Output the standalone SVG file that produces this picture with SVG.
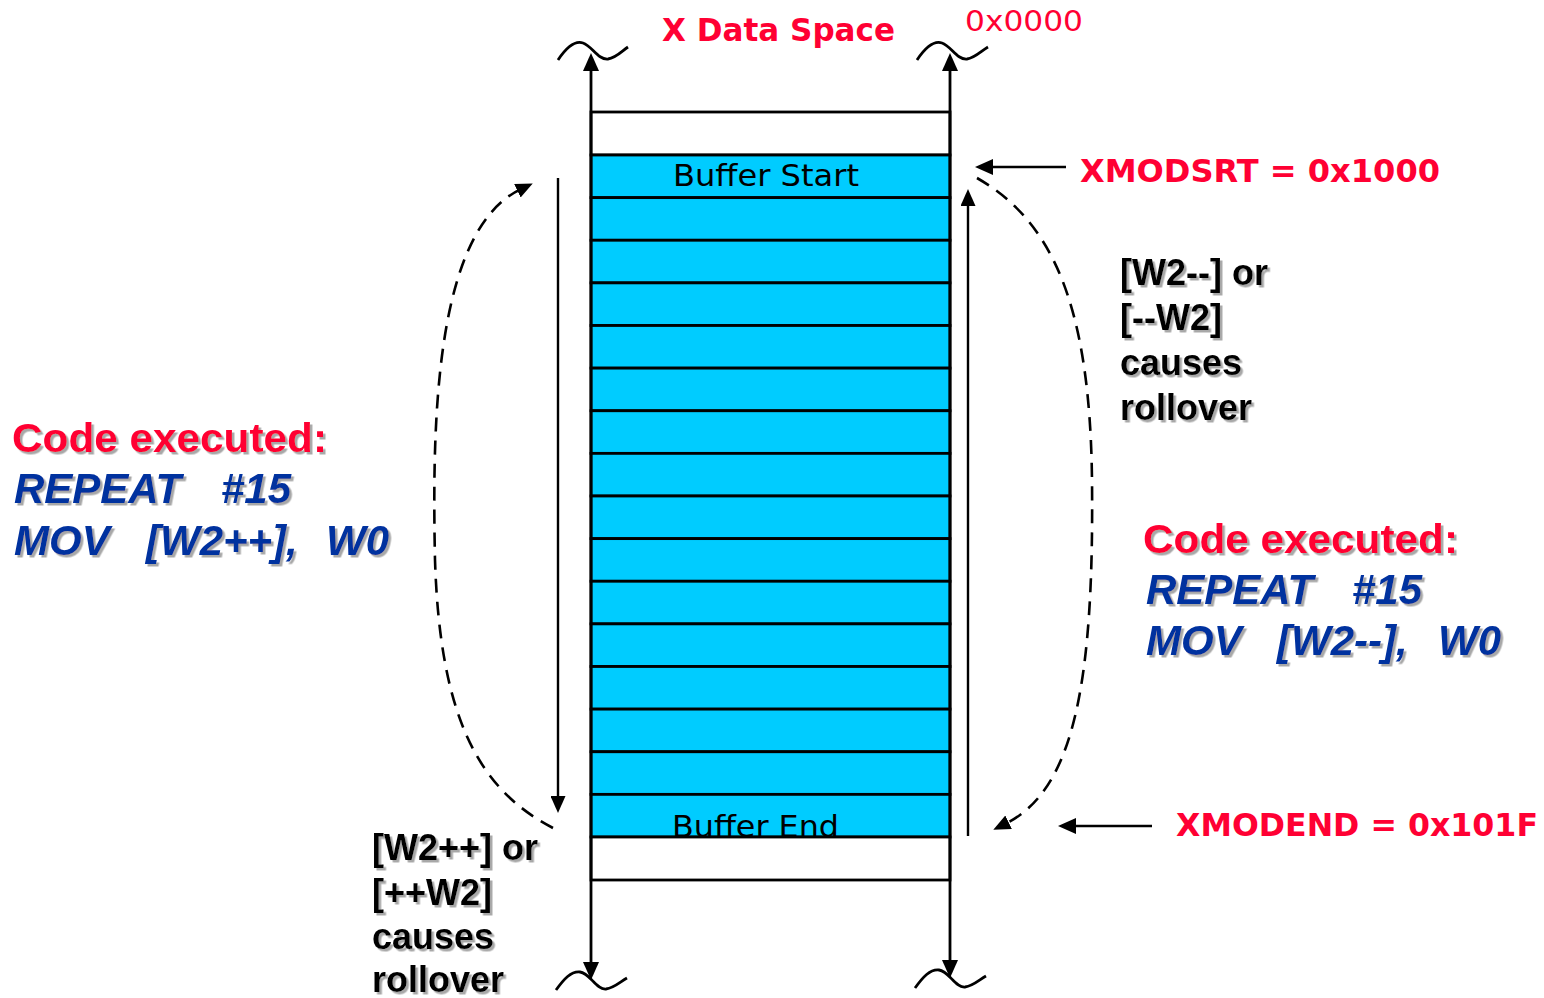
<svg xmlns="http://www.w3.org/2000/svg" width="1544" height="998" viewBox="0 0 1544 998">
  <style>
    .cell { fill: #00CCFF; stroke: #000; stroke-width: 2.8; }
    .blank { fill: #fff; stroke: #000; stroke-width: 2.8; }
    .axis { fill: none; stroke: #000; stroke-width: 2.8; }
    .thin { fill: none; stroke: #000; stroke-width: 2.4; }
    .dash { fill: none; stroke: #000; stroke-width: 2.6; stroke-dasharray: 14 9; }
    .tilde { fill: none; stroke: #000; stroke-width: 2.8; }
    .cellText { font-family: "DejaVu Sans", Verdana, sans-serif; font-size: 30px; fill: #000; }
    .redHead { font-family: "DejaVu Sans", Verdana, sans-serif; font-weight: bold; font-size: 32px; fill: #FF0033; }
    .redAddr { font-family: "DejaVu Sans", Verdana, sans-serif; font-size: 29px; fill: #FF0033; }
    .codeHead { font-family: "Liberation Sans", Arial, sans-serif; font-weight: bold; font-size: 40px; fill: #FF0033; }
    .code { font-family: "Liberation Sans", Arial, sans-serif; font-weight: bold; font-style: italic; font-size: 42px; fill: #06309F; }
    .note { font-family: "Liberation Sans", Arial, sans-serif; font-weight: bold; font-size: 36px; fill: #000; }
  </style>
  <defs>
    <marker id="ah" viewBox="0 0 18 16" refX="4" refY="8" markerWidth="18" markerHeight="16" markerUnits="userSpaceOnUse" orient="auto-start-reverse">
      <path d="M0,0 L18,8 L0,16 z" fill="#000"/>
    </marker>
    <marker id="ahs" viewBox="0 0 17 15" refX="4" refY="7.5" markerWidth="17" markerHeight="15" markerUnits="userSpaceOnUse" orient="auto-start-reverse">
      <path d="M0,0 L17,7.5 L0,15 z" fill="#000"/>
    </marker>
    <filter id="shadow" x="-5%" y="-20%" width="115%" height="150%">
      <feDropShadow dx="2.5" dy="2.5" stdDeviation="0.7" flood-color="#8a8a8a" flood-opacity="0.75"/>
    </filter>
  </defs>

  <rect width="1544" height="998" fill="#fff"/>

  <!-- memory map column -->
  <g id="memory-map">
    <rect class="blank" x="591" y="112" width="359" height="43"/>
    <rect class="cell" x="591" y="155" width="359" height="42.625"/>
    <rect class="cell" x="591" y="197.625" width="359" height="42.625"/>
    <rect class="cell" x="591" y="240.25" width="359" height="42.625"/>
    <rect class="cell" x="591" y="282.875" width="359" height="42.625"/>
    <rect class="cell" x="591" y="325.5" width="359" height="42.625"/>
    <rect class="cell" x="591" y="368.125" width="359" height="42.625"/>
    <rect class="cell" x="591" y="410.75" width="359" height="42.625"/>
    <rect class="cell" x="591" y="453.375" width="359" height="42.625"/>
    <rect class="cell" x="591" y="496" width="359" height="42.625"/>
    <rect class="cell" x="591" y="538.625" width="359" height="42.625"/>
    <rect class="cell" x="591" y="581.25" width="359" height="42.625"/>
    <rect class="cell" x="591" y="623.875" width="359" height="42.625"/>
    <rect class="cell" x="591" y="666.5" width="359" height="42.625"/>
    <rect class="cell" x="591" y="709.125" width="359" height="42.625"/>
    <rect class="cell" x="591" y="751.75" width="359" height="42.625"/>
    <rect class="cell" x="591" y="794.375" width="359" height="42.625"/>
    <text class="cellText" x="673" y="186" textLength="186" lengthAdjust="spacingAndGlyphs">Buffer Start</text>
    <text class="cellText" x="672" y="837" textLength="167" lengthAdjust="spacingAndGlyphs">Buffer End</text>
    <rect class="blank" x="591" y="837" width="359" height="43" stroke-width="2.2"/>
  </g>

  <!-- connectors -->
  <g id="connectors">
    <!-- address axes -->
    <line class="axis" x1="591" y1="67" x2="591" y2="966" marker-start="url(#ah)" marker-end="url(#ah)"/>
    <line class="axis" x1="950" y1="67" x2="950" y2="964" marker-start="url(#ah)" marker-end="url(#ah)"/>
    <!-- break marks -->
    <path class="tilde" d="M558,60 C566,48 574,40 583,43 C592,46 598,60 608,59 C616,58 622,51 628,47"/>
    <path class="tilde" d="M917,60 C925,48 933,40 942,43 C951,46 957,60 967,59 C975,58 981,51 988,47"/>
    <path class="tilde" d="M556,990 C564,979 571,971 580,972 C590,973 596,990 606,989 C614,988 620,982 627,978"/>
    <path class="tilde" d="M915,988 C923,977 930,969 939,970 C949,971 955,988 965,987 C973,986 979,980 986,976"/>
    <!-- traversal direction -->
    <line class="thin" x1="558" y1="178" x2="558" y2="800" marker-end="url(#ahs)"/>
    <line class="thin" x1="968" y1="836" x2="968" y2="202" marker-end="url(#ahs)"/>
    <!-- rollover paths -->
    <path class="dash" d="M553,828 C480,790 440,720 435,560 C432,420 435,230 521,189" marker-end="url(#ahs)"/>
    <path class="dash" d="M977,178 C1050,220 1090,300 1092,480 C1094,680 1075,790 1005,824" marker-end="url(#ahs)"/>
    <!-- register pointers -->
    <line class="thin" x1="1066" y1="167" x2="989" y2="167" marker-end="url(#ah)"/>
    <line class="thin" x1="1152" y1="826" x2="1072" y2="826" marker-end="url(#ah)"/>
  </g>

  <g id="title">
    <text class="redHead" x="662" y="41" textLength="233" lengthAdjust="spacingAndGlyphs">X Data Space</text>
  </g>
  <g id="addr-top">
    <text class="redAddr" x="965" y="31" textLength="118" lengthAdjust="spacingAndGlyphs">0x0000</text>
  </g>
  <g id="xmodsrt">
    <text class="redHead" x="1080" y="182" textLength="360" lengthAdjust="spacingAndGlyphs">XMODSRT = 0x1000</text>
  </g>
  <g id="xmodend">
    <text class="redHead" x="1176" y="836" textLength="362" lengthAdjust="spacingAndGlyphs">XMODEND = 0x101F</text>
  </g>

  <g id="code-left" filter="url(#shadow)">
    <text class="codeHead" x="12" y="452" textLength="315" lengthAdjust="spacingAndGlyphs">Code executed:</text>
    <text class="code" y="503"><tspan x="14">REPEAT</tspan><tspan x="221">#15</tspan></text>
    <text class="code" y="555"><tspan x="14">MOV</tspan><tspan x="146">[W2++],</tspan><tspan x="326">W0</tspan></text>
  </g>

  <g id="code-right" filter="url(#shadow)">
    <text class="codeHead" x="1143" y="553" textLength="315" lengthAdjust="spacingAndGlyphs">Code executed:</text>
    <text class="code" y="604"><tspan x="1146">REPEAT</tspan><tspan x="1352">#15</tspan></text>
    <text class="code" y="655"><tspan x="1146">MOV</tspan><tspan x="1277">[W2--],</tspan><tspan x="1438">W0</tspan></text>
  </g>

  <g id="note-right" filter="url(#shadow)">
    <text class="note" x="1120" y="285">[W2--] or</text>
    <text class="note" x="1120" y="330">[--W2]</text>
    <text class="note" x="1120" y="375">causes</text>
    <text class="note" x="1120" y="420">rollover</text>
  </g>

  <g id="note-left" filter="url(#shadow)">
    <text class="note" x="372" y="860">[W2++] or</text>
    <text class="note" x="372" y="905">[++W2]</text>
    <text class="note" x="372" y="949">causes</text>
    <text class="note" x="372" y="992">rollover</text>
  </g>
</svg>
